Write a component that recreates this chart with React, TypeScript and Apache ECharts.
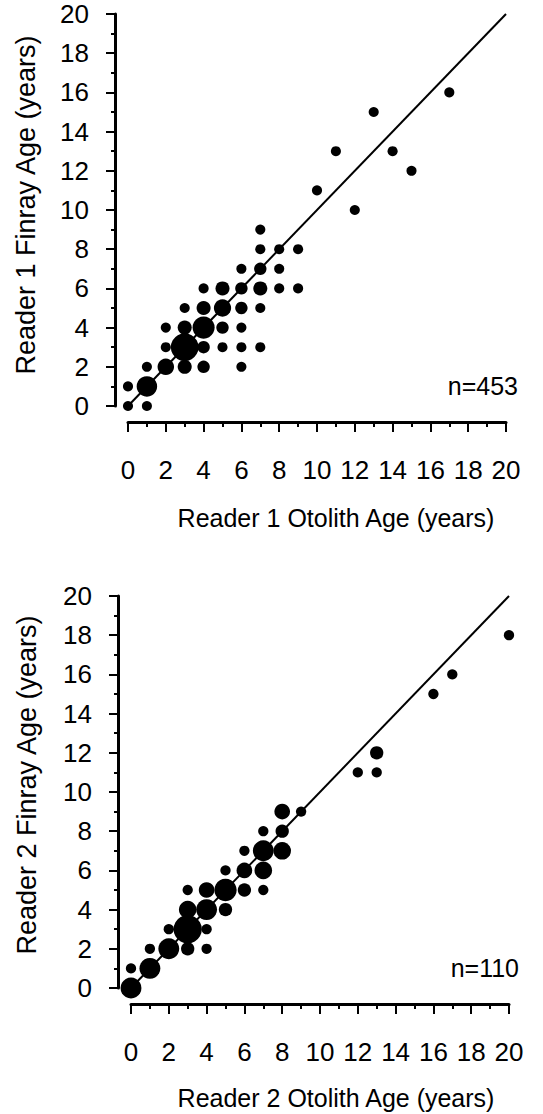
import React, { useEffect, useRef } from 'react';
import * as echarts from 'echarts';

// [otolith age, finray age, count]
const reader1Points: number[][] = [
  [0, 0, 1], [0, 1, 1], [1, 0, 1], [1, 1, 56], [1, 2, 1],
  [2, 2, 25], [2, 3, 1], [2, 4, 1],
  [3, 2, 12], [3, 3, 144], [3, 4, 12], [3, 5, 1],
  [4, 2, 6], [4, 3, 6], [4, 4, 72], [4, 5, 12], [4, 6, 1],
  [5, 3, 1], [5, 4, 6], [5, 5, 30], [5, 6, 12],
  [6, 2, 1], [6, 3, 1], [6, 4, 1], [6, 5, 6], [6, 6, 6], [6, 7, 1],
  [7, 3, 1], [7, 5, 1], [7, 6, 12], [7, 7, 6], [7, 8, 1], [7, 9, 1],
  [8, 6, 1], [8, 7, 1], [8, 8, 1],
  [9, 6, 1], [9, 8, 1],
  [10, 11, 1], [11, 13, 1], [12, 10, 1], [13, 15, 1], [14, 13, 1], [15, 12, 1], [17, 16, 1],
];

const reader2Points: number[][] = [
  [0, 0, 6], [0, 1, 1], [1, 1, 6], [1, 2, 1],
  [2, 2, 6], [2, 3, 1],
  [3, 2, 2], [3, 3, 12], [3, 4, 4], [3, 5, 1],
  [4, 2, 1], [4, 3, 1], [4, 4, 6], [4, 5, 3],
  [5, 4, 2], [5, 5, 7], [5, 6, 1],
  [6, 5, 2], [6, 6, 3], [6, 7, 1],
  [7, 5, 1], [7, 6, 4], [7, 7, 6], [7, 8, 1],
  [8, 7, 4], [8, 8, 2], [8, 9, 3],
  [9, 9, 1],
  [12, 11, 1], [13, 11, 1], [13, 12, 2],
  [16, 15, 1], [17, 16, 1], [20, 18, 1],
];

const oneToOneLine: number[][] = [[0, 0], [20, 20]];

const axisMin = 0;
const axisMax = 20;
const axisStep = 2;

const reader1XTitle = 'Reader 1 Otolith Age (years)';
const reader1YTitle = 'Reader 1 Finray Age (years)';
const reader2XTitle = 'Reader 2 Otolith Age (years)';
const reader2YTitle = 'Reader 2 Finray Age (years)';
const reader1N = 'n=453';
const reader2N = 'n=110';

const FONT = "'Liberation Sans', Arial, Helvetica, sans-serif";

function makeXAxis(gridIndex: number) {
  return {
    type: 'value',
    gridIndex,
    min: axisMin,
    max: axisMax,
    interval: axisStep,
    offset: 16,
    axisLine: { show: true, onZero: false, lineStyle: { color: '#000', width: 3 } },
    axisTick: { show: true, length: 10, lineStyle: { color: '#000', width: 2 } },
    minorTick: { show: true, splitNumber: 2, length: 5, lineStyle: { color: '#000', width: 2 } },
    splitLine: { show: false },
    minorSplitLine: { show: false },
    axisLabel: { margin: 35, color: '#000', fontSize: 26, fontFamily: FONT, showMinLabel: true, showMaxLabel: true },
  };
}

function makeYAxis(gridIndex: number) {
  return {
    type: 'value',
    gridIndex,
    min: axisMin,
    max: axisMax,
    interval: axisStep,
    offset: 13,
    axisLine: { show: true, onZero: false, lineStyle: { color: '#000', width: 3 } },
    axisTick: { show: true, length: 9, lineStyle: { color: '#000', width: 2 } },
    minorTick: { show: true, splitNumber: 2, length: 4, lineStyle: { color: '#000', width: 2 } },
    splitLine: { show: false },
    minorSplitLine: { show: false },
    axisLabel: { margin: 26, color: '#000', fontSize: 26, fontFamily: FONT, showMinLabel: true, showMaxLabel: true },
  };
}

export default function App() {
  const ref = useRef<HTMLDivElement>(null);

  useEffect(() => {
    if (!ref.current) return;
    const chart = echarts.init(ref.current, null, { renderer: 'svg' });
    const size1 = (v: number[]) => 8.5 + 1.6 * Math.sqrt(v[2]);
    const size2 = (v: number[]) => 3 + 7.3 * Math.sqrt(v[2]);
    const xTitleStyle = { fill: '#000', fontSize: 25, fontFamily: FONT };
    const yTitleStyle = { fill: '#000', fontSize: 27, fontFamily: FONT };
    const nStyle = { fill: '#000', fontSize: 25, fontFamily: FONT };
    chart.setOption({
      animation: false,
      backgroundColor: '#fff',
      grid: [
        { left: 128, top: 14, width: 378, height: 392 },
        { left: 131, top: 596, width: 378, height: 392 },
      ],
      xAxis: [makeXAxis(0), makeXAxis(1)],
      yAxis: [makeYAxis(0), makeYAxis(1)],
      series: [
        {
          type: 'line', xAxisIndex: 0, yAxisIndex: 0, data: oneToOneLine,
          showSymbol: false, symbol: 'none', lineStyle: { color: '#000', width: 2 }, silent: true,
        },
        {
          type: 'scatter', xAxisIndex: 0, yAxisIndex: 0, data: reader1Points,
          symbol: 'circle', symbolSize: size1, itemStyle: { color: '#000', opacity: 1 },
        },
        {
          type: 'line', xAxisIndex: 1, yAxisIndex: 1, data: oneToOneLine,
          showSymbol: false, symbol: 'none', lineStyle: { color: '#000', width: 2 }, silent: true,
        },
        {
          type: 'scatter', xAxisIndex: 1, yAxisIndex: 1, data: reader2Points,
          symbol: 'circle', symbolSize: size2, itemStyle: { color: '#000', opacity: 1 },
        },
      ],
      graphic: [
        { type: 'text', x: 26, y: 205, rotation: Math.PI / 2, style: { ...yTitleStyle, text: reader1YTitle, align: 'center', verticalAlign: 'middle' } },
        { type: 'text', x: 27, y: 785, rotation: Math.PI / 2, style: { ...yTitleStyle, text: reader2YTitle, align: 'center', verticalAlign: 'middle' } },
        { type: 'text', x: 336, y: 518, style: { ...xTitleStyle, text: reader1XTitle, align: 'center', verticalAlign: 'middle' } },
        { type: 'text', x: 336, y: 1098, style: { ...xTitleStyle, text: reader2XTitle, align: 'center', verticalAlign: 'middle' } },
        { type: 'text', x: 518, y: 386, style: { ...nStyle, text: reader1N, align: 'right', verticalAlign: 'middle' } },
        { type: 'text', x: 519, y: 968, style: { ...nStyle, text: reader2N, align: 'right', verticalAlign: 'middle' } },
      ],
    });
    return () => chart.dispose();
  }, []);

  return (
    <div
      ref={ref}
      style={{ position: 'absolute', left: 0, top: 0, width: 543, height: 1114, background: '#fff' }}
    />
  );
}
